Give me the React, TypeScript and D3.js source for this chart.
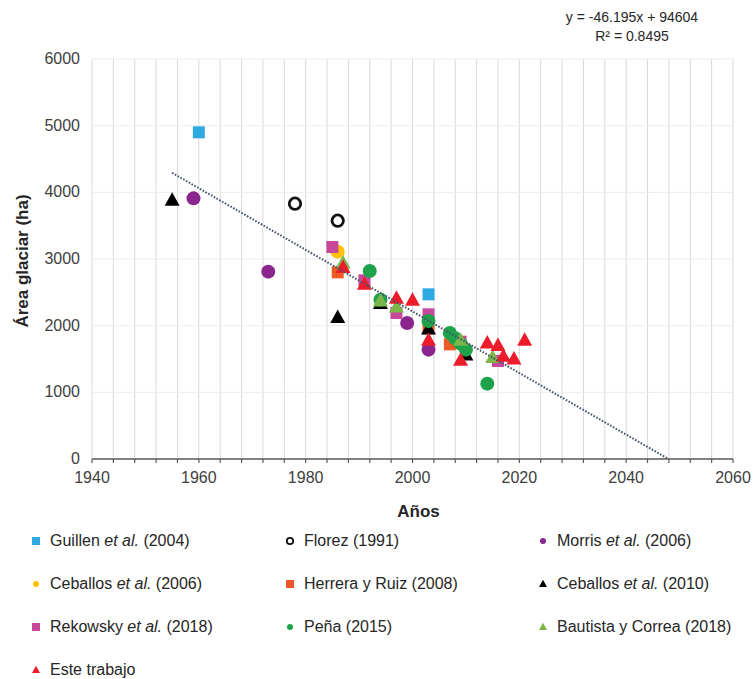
import { useEffect, useRef } from "react";
import * as d3 from "d3";

// Series data (year, area in ha)
const guillenYears = [1960, 2003];
const guillenArea = [4900, 2470];

const florezYears = [1978, 1986];
const florezArea = [3830, 3575];

const morrisYears = [1959, 1973, 1999, 2003];
const morrisArea = [3910, 2810, 2040, 1640];

const ceballos06Years = [1986];
const ceballos06Area = [3110];

const herreraYears = [1986, 2003, 2007];
const herreraArea = [2800, 1960, 1720];

const ceballos10Years = [1955, 1986, 1994, 2003, 2010];
const ceballos10Area = [3880, 2120, 2330, 1950, 1560];

const rekowskyYears = [1985, 1991, 1997, 2003, 2009, 2016];
const rekowskyArea = [3180, 2680, 2190, 2170, 1760, 1470];

const penaYears = [1992, 1994, 2003, 2007, 2008, 2009, 2010, 2014];
const penaArea = [2820, 2390, 2070, 1890, 1810, 1730, 1640, 1130];

const bautistaYears = [1987, 1994, 1997, 2009, 2015];
const bautistaArea = [2940, 2370, 2280, 1780, 1520];

const esteYears = [1987, 1991, 1997, 2000, 2003, 2009, 2014, 2016, 2017, 2019, 2021];
const esteArea = [2870, 2620, 2410, 2380, 1780, 1480, 1740, 1700, 1540, 1500, 1780];

const xTicks = [1940, 1960, 1980, 2000, 2020, 2040, 2060];
const yTicks = [0, 1000, 2000, 3000, 4000, 5000, 6000];

// trendline y = -46.195x + 94604, from first point to y = 0
const trendSlope = -46.195;
const trendIntercept = 94604;
const trendStart = 1955;

type Shape = "square" | "circle" | "ring" | "triangle";

const series = [
  { years: guillenYears, area: guillenArea, shape: "square" as Shape, color: "#2ea9e1" },
  { years: florezYears, area: florezArea, shape: "ring" as Shape, color: "#111111" },
  { years: morrisYears, area: morrisArea, shape: "circle" as Shape, color: "#8b268f" },
  { years: ceballos06Years, area: ceballos06Area, shape: "circle" as Shape, color: "#ffc000" },
  { years: herreraYears, area: herreraArea, shape: "square" as Shape, color: "#ef5a24" },
  { years: ceballos10Years, area: ceballos10Area, shape: "triangle" as Shape, color: "#000000" },
  { years: rekowskyYears, area: rekowskyArea, shape: "square" as Shape, color: "#c7489b" },
  { years: penaYears, area: penaArea, shape: "circle" as Shape, color: "#1fa34a" },
  { years: bautistaYears, area: bautistaArea, shape: "triangle" as Shape, color: "#7ab648" },
  { years: esteYears, area: esteArea, shape: "triangle" as Shape, color: "#ec1c2a" },
];

// legend labels: [before italic, italic, after]
const legendLabels: [string, string, string][] = [
  ["Guillen ", "et al.", " (2004)"],
  ["Florez (1991)", "", ""],
  ["Morris ", "et al.", " (2006)"],
  ["Ceballos ", "et al.", " (2006)"],
  ["Herrera y Ruiz (2008)", "", ""],
  ["Ceballos ", "et al.", " (2010)"],
  ["Rekowsky ", "et al.", " (2018)"],
  ["Peña (2015)", "", ""],
  ["Bautista y Correa (2018)", "", ""],
  ["Este trabajo", "", ""],
];

const FONT = "'Liberation Sans', Arial, sans-serif";

function drawMarker(
  g: d3.Selection<SVGGElement, unknown, null, undefined>,
  shape: Shape,
  color: string,
  cx: number,
  cy: number,
  s: number
) {
  if (shape === "square") {
    g.append("rect")
      .attr("x", cx - s / 2)
      .attr("y", cy - s / 2)
      .attr("width", s)
      .attr("height", s)
      .attr("fill", color);
  } else if (shape === "circle") {
    g.append("circle").attr("cx", cx).attr("cy", cy).attr("r", s / 2).attr("fill", color);
  } else if (shape === "ring") {
    g.append("circle")
      .attr("cx", cx)
      .attr("cy", cy)
      .attr("r", s / 2 - 1.3)
      .attr("fill", "#fff")
      .attr("stroke", color)
      .attr("stroke-width", Math.max(1.6, s / 5));
  } else {
    const h = s * 0.9;
    g.append("path")
      .attr("d", `M${cx},${cy - h * 0.6}L${cx + s / 2},${cy + h * 0.4}L${cx - s / 2},${cy + h * 0.4}Z`)
      .attr("fill", color);
  }
}

export default function App() {
  const ref = useRef<SVGSVGElement>(null);

  useEffect(() => {
    if (!ref.current) return;
    const svg = d3.select(ref.current);
    svg.selectAll("*").remove();

    const x = d3.scaleLinear().domain([1940, 2060]).range([92, 733]);
    const y = d3.scaleLinear().domain([0, 6000]).range([459, 59]);

    const g = svg.append("g");

    // gridlines
    const vGrid = d3.range(1940, 2061, 4);
    g.selectAll(".vgrid")
      .data(vGrid)
      .enter()
      .append("line")
      .attr("x1", (d) => x(d))
      .attr("x2", (d) => x(d))
      .attr("y1", y(6000))
      .attr("y2", y(0))
      .attr("stroke", "#d9d9d9")
      .attr("stroke-width", 1);

    g.selectAll(".hgrid")
      .data(yTicks.filter((d) => d > 0))
      .enter()
      .append("line")
      .attr("x1", x(1940))
      .attr("x2", x(2060))
      .attr("y1", (d) => y(d))
      .attr("y2", (d) => y(d))
      .attr("stroke", "#ececec")
      .attr("stroke-width", 1);

    // x axis
    g.append("line")
      .attr("x1", x(1940))
      .attr("x2", x(2060))
      .attr("y1", y(0))
      .attr("y2", y(0))
      .attr("stroke", "#595959")
      .attr("stroke-width", 1.3);
    g.selectAll(".xtick")
      .data(vGrid)
      .enter()
      .append("line")
      .attr("x1", (d) => x(d))
      .attr("x2", (d) => x(d))
      .attr("y1", y(0))
      .attr("y2", y(0) + 4)
      .attr("stroke", "#595959")
      .attr("stroke-width", 1.2);

    g.selectAll(".xlab")
      .data(xTicks)
      .enter()
      .append("text")
      .attr("x", (d) => x(d))
      .attr("y", y(0) + 24)
      .attr("text-anchor", "middle")
      .attr("font-family", FONT)
      .attr("font-size", 16)
      .attr("fill", "#404040")
      .text((d) => d);

    g.selectAll(".ylab")
      .data(yTicks)
      .enter()
      .append("text")
      .attr("x", 80)
      .attr("y", (d) => y(d) + 5)
      .attr("text-anchor", "end")
      .attr("font-family", FONT)
      .attr("font-size", 16)
      .attr("fill", "#404040")
      .text((d) => d);

    // axis titles
    g.append("text")
      .attr("x", x(2000) + 6)
      .attr("y", 517)
      .attr("text-anchor", "middle")
      .attr("font-family", FONT)
      .attr("font-size", 17)
      .attr("font-weight", "bold")
      .attr("fill", "#262626")
      .text("Años");
    g.append("text")
      .attr("transform", `translate(28,${y(3000) + 2}) rotate(-90)`)
      .attr("text-anchor", "middle")
      .attr("font-family", FONT)
      .attr("font-size", 17)
      .attr("font-weight", "bold")
      .attr("fill", "#262626")
      .text("Área glaciar (ha)");

    // points
    series.forEach((s) => {
      const sg = g.append("g");
      s.years.forEach((yr, i) => {
        const size = s.shape === "square" ? 12 : s.shape === "triangle" ? 15 : 14;
        drawMarker(sg, s.shape, s.color, x(yr), y(s.area[i]), size);
      });
    });

    // trendline
    const trendEnd = -trendIntercept / trendSlope;
    const trend = [trendStart, trendEnd].map((yr) => ({ yr, v: trendSlope * yr + trendIntercept }));
    const line = d3
      .line<{ yr: number; v: number }>()
      .x((d) => x(d.yr))
      .y((d) => y(d.v));
    g.append("path")
      .datum(trend)
      .attr("d", line)
      .attr("fill", "none")
      .attr("stroke", "#44546a")
      .attr("stroke-width", 2)
      .attr("stroke-dasharray", "1.6,1.6");

    // equation
    const eq = g.append("text").attr("font-family", FONT).attr("font-size", 14).attr("fill", "#262626");
    eq.append("tspan").attr("x", 632).attr("y", 22).attr("text-anchor", "middle").text("y = -46.195x + 94604");
    eq.append("tspan").attr("x", 632).attr("y", 41).attr("text-anchor", "middle").text("R² = 0.8495");

    // legend
    const colX = [36, 290, 543];
    const rowY = [541, 584, 627, 670];
    series.forEach((s, i) => {
      const cx = colX[i % 3];
      const cy = rowY[Math.floor(i / 3)];
      const lg = g.append("g");
      const ms = s.shape === "square" ? 8 : s.shape === "ring" ? 9 : s.shape === "triangle" ? 8 : 6;
      drawMarker(lg, s.shape, s.color, cx, cy, ms);
      const [a, b, c] = legendLabels[i];
      const t = lg
        .append("text")
        .attr("x", cx + 14)
        .attr("y", cy + 5)
        .attr("font-family", FONT)
        .attr("font-size", 16)
        .attr("fill", "#262626");
      t.append("tspan").text(a);
      if (b) t.append("tspan").attr("font-style", "italic").text(b);
      if (c) t.append("tspan").text(c);
    });
  }, []);

  return (
    <svg
      ref={ref}
      width={754}
      height={679}
      style={{ position: "absolute", left: 0, top: 0, background: "#fff" }}
    />
  );
}
